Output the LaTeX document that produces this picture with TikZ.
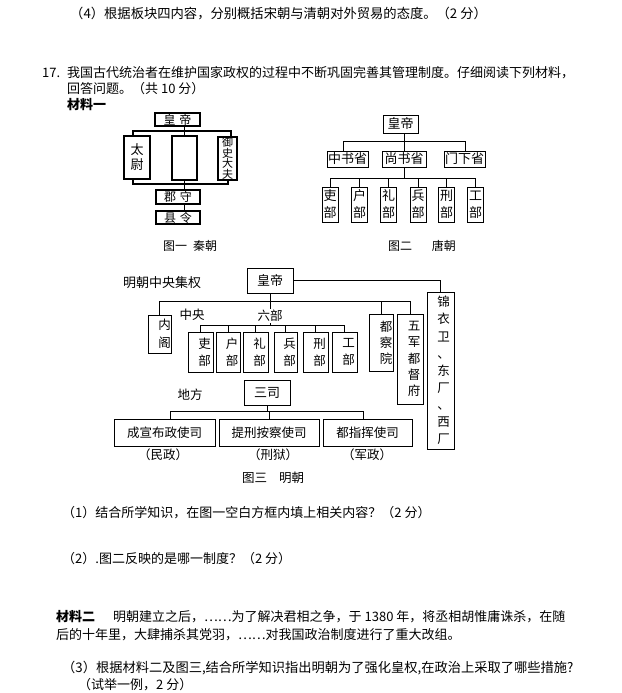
\documentclass[tikz,border=0pt]{standalone}
\usepackage{fontspec}
\setmainfont{Noto Sans CJK SC}
\begin{document}
\begin{tikzpicture}[x=1pt,y=-1pt,
  box/.style={draw, line width=0.7pt, inner sep=0pt, align=center},
  qbox/.style={draw, line width=1.1pt, inner sep=0pt, align=center},
  ln/.style={line width=0.7pt},
  qln/.style={line width=1.1pt},
  txt/.style={anchor=west, inner sep=0pt, font=\fontsize{13}{15}\selectfont},
  lbl/.style={inner sep=0pt, font=\fontsize{12.5}{15}\selectfont},
  f12/.style={font=\fontsize{12}{14}\selectfont},
  f13/.style={font=\fontsize{13}{15}\selectfont},
  vt/.style={font=\fontsize{12.5}{17}\selectfont}]
\useasboundingbox[fill=white] (0,0) rectangle (621,693);

% ---------- header text ----------
\node[txt, font=\fontsize{13.3}{15}\selectfont] (t4) at (70,14) {（4）根据板块四内容，分别概括宋朝与清朝对外贸易的态度。（2 分）};
\node[txt] (t17n) at (42,73) {17.};
\node[txt] (t17a) at (67,73) {我国古代统治者在维护国家政权的过程中不断巩固完善其管理制度。仔细阅读下列材料，};
\node[txt] (t17b) at (67,89) {回答问题。（共 10 分）};
\node[txt, font=\fontsize{13}{15}\selectfont\bfseries] (cl1) at (67,105) {材料一};

% ---------- Figure 1: Qin ----------
\node[qbox, minimum width=45pt, minimum height=13pt, f12] (qemp) at (177.5,119.5) {皇\hspace{4pt}帝};
\node[qbox, minimum width=26pt, minimum height=43pt, font=\fontsize{13}{15}\selectfont] (qtw) at (137,157.5) {太\\尉};
\node[qbox, minimum width=25pt, minimum height=44pt] (qmid) at (184.5,158) {};
\node[qbox, minimum width=19pt, minimum height=43pt, font=\fontsize{11}{10.6}\selectfont] (qys) at (227.5,158.5) {御\\史\\大\\夫};
\node[qbox, minimum width=44pt, minimum height=14pt, f12] (qjs) at (178,197) {郡\hspace{4pt}守};
\node[qbox, minimum width=44pt, minimum height=13pt, f12] (qxl) at (178,217.5) {县\hspace{4pt}令};
\coordinate (qL) at (133,131);
\coordinate (qR) at (231,131);
\coordinate (qL2) at (133,184);
\coordinate (qR2) at (228,184);
\draw[qln] (qmid.north |- qemp.south) -- (qmid.north);
\draw[qln] (qL |- qtw.north) -- (qL) -- (qR) -- (qR |- qys.north);
\draw[qln] (qL2 |- qtw.south) -- (qL2) -- (qR2) -- (qR2 |- qys.south);
\draw[qln] (qmid.south) -- (qmid.south |- qjs.north);
\draw[qln] (qmid.south |- qjs.south) -- (qmid.south |- qxl.north);
\node[lbl, f12] (cap1) at (190,246) {图一\hspace{6pt}秦朝};

% ---------- Figure 2: Tang ----------
\node[box, minimum width=35pt, minimum height=18pt, f13] (temp) at (400.5,124) {皇帝};
\node[box, minimum width=41pt, minimum height=16pt, f13] (tzs) at (347.5,159) {中书省};
\node[box, minimum width=44pt, minimum height=16pt, f13] (tsh) at (404,159) {尚书省};
\node[box, minimum width=41pt, minimum height=16pt, f13] (tmx) at (464.5,159) {门下省};
\coordinate (tL) at (343,141);
\coordinate (tR) at (465,141);
\coordinate (tB) at (404,178);
\draw[ln] (tsh.north |- temp.south) -- (tsh.north);
\draw[ln] (tL |- tzs.north) -- (tL) -- (tR) -- (tR |- tmx.north);
\foreach \n/\x/\t in {t1/330/吏, t2/359.5/户, t3/388.5/礼, t4b/418/兵, t5/446.5/刑, t6/475.5/工}{
  \node[box, minimum width=16pt, minimum height=35pt, font=\fontsize{13}{17}\selectfont] (\n) at (\x,204.5) {\t\\部};
}
\draw[ln] (tsh.south) -- (tB);
\draw[ln] (t1.north) -- (t1.north |- tB) -- (t6.north |- tB) -- (t6.north);
\foreach \n in {t2,t3,t4b,t5}{\draw[ln] (\n.north) -- (\n.north |- tB);}
\node[lbl, f12] (cap2) at (422,246) {图二\hspace{20pt}唐朝};

% ---------- Figure 3: Ming ----------
\node[txt] (mtitle) at (123,283) {明朝中央集权};
\node[box, minimum width=46pt, minimum height=25pt, f13] (memp) at (270,280.5) {皇帝};
\node[box, minimum width=27pt, minimum height=157pt, font=\fontsize{12.5}{17.1}\selectfont] (mjy) at (440.5,370.5)
  {\hspace*{6pt}锦\\\hspace*{6pt}衣\\\hspace*{6pt}卫\\\hspace*{6pt}、\\\hspace*{6pt}东\\\hspace*{6pt}厂\\\hspace*{6pt}、\\\hspace*{6pt}西\\\hspace*{6pt}厂};
\draw[ln] (memp.east) -- (memp.east -| mjy.north) -- (mjy.north);
\node[box, minimum width=23pt, minimum height=38pt, font=\fontsize{12.5}{18}\selectfont] (mng) at (159.5,334) {\hspace*{10pt}内\\\hspace*{10pt}阁};
\node[box, minimum width=24pt, minimum height=57pt, font=\fontsize{12.5}{16}\selectfont] (mdc) at (381,342.5) {\hspace*{10pt}都\\\hspace*{10pt}察\\\hspace*{10pt}院};
\node[box, minimum width=26pt, minimum height=90pt, font=\fontsize{12.5}{16.2}\selectfont] (mwj) at (410,359) {\hspace*{8pt}五\\\hspace*{8pt}军\\\hspace*{8pt}都\\\hspace*{8pt}督\\\hspace*{8pt}府};
\coordinate (mB) at (270,301);
\coordinate (m6B) at (270,325);
\draw[ln] (mng.north) -- (mng.north |- mB) -- (mwj.north |- mB) -- (mwj.north);
\draw[ln] (mdc.north) -- (mdc.north |- mB);
\draw[ln] (memp.south) -- (m6B);
\foreach \n/\x/\w/\t in {m61/200.5/25/吏, m62/228/24/户, m63/255.5/25/礼, m64/285.5/23/兵, m65/315.5/25/刑, m66/344.5/25/工}{
  \node[box, minimum width=\w pt, minimum height=40pt, font=\fontsize{12.5}{17}\selectfont] (\n) at (\x,352) {\hspace*{8pt}\t\\\hspace*{8pt}部};
}
\draw[ln] (m61.north) -- (m61.north |- m6B) -- (m66.north |- m6B) -- (m66.north);
\foreach \n in {m62,m63,m64,m65}{\draw[ln] (\n.north) -- (\n.north |- m6B);}
\node[lbl, fill=white, inner sep=1pt] (mlb) at (270,316) {六部};
\node[lbl] (mzy) at (192,315) {中央};
\node[lbl] (mdf) at (190,395) {地方};
\node[box, minimum width=46pt, minimum height=25pt, f13] (msan) at (267,392.5) {三司};
\node[box, minimum width=101pt, minimum height=27pt, font=\fontsize{12.5}{15}\selectfont] (ms1) at (164.5,432.5) {成宣布政使司};
\node[box, minimum width=100pt, minimum height=27pt, font=\fontsize{12.5}{15}\selectfont] (ms2) at (269,432.5) {提刑按察使司};
\node[box, minimum width=89pt, minimum height=27pt, font=\fontsize{12.5}{15}\selectfont] (ms3) at (367.5,432.5) {都指挥使司};
\coordinate (sB) at (267,411);
\coordinate (sL) at (170,411);
\coordinate (sR) at (363,411);
\draw[ln] (msan.south) -- (sB);
\draw[ln] (sL |- ms1.north) -- (sL) -- (sR) -- (sR |- ms3.north);
\draw[ln] (ms2.north) -- (ms2.north |- sB);
\node[lbl] (ml1) at (163,455) {（民政）};
\node[lbl] (ml2) at (273,455) {（刑狱）};
\node[lbl] (ml3) at (367,455) {（军政）};
\node[lbl] (cap3) at (273,478) {图三\hspace{12pt}明朝};

% ---------- questions ----------
\node[txt] (q1) at (62,513) {（1）结合所学知识，在图一空白方框内填上相关内容？（2 分）};
\node[txt] (q2) at (62,559) {（2）.图二反映的是哪一制度？（2 分）};
\node[txt, font=\fontsize{13}{15}\selectfont] (cl2) at (56,617) {{\bfseries 材料二}\hspace{18pt}明朝建立之后，……为了解决君相之争，于 1380 年，将丞相胡惟庸诛杀，在随};
\node[txt] (cl2b) at (56,635) {后的十年里，大肆捕杀其党羽，……对我国政治制度进行了重大改组。};
\node[txt, font=\fontsize{13.25}{15}\selectfont] (q3) at (62,668) {（3）根据材料二及图三,结合所学知识指出明朝为了强化皇权,在政治上采取了哪些措施?};
\node[txt] (q3b) at (78,685) {（试举一例，2 分）};
\end{tikzpicture}
\end{document}
